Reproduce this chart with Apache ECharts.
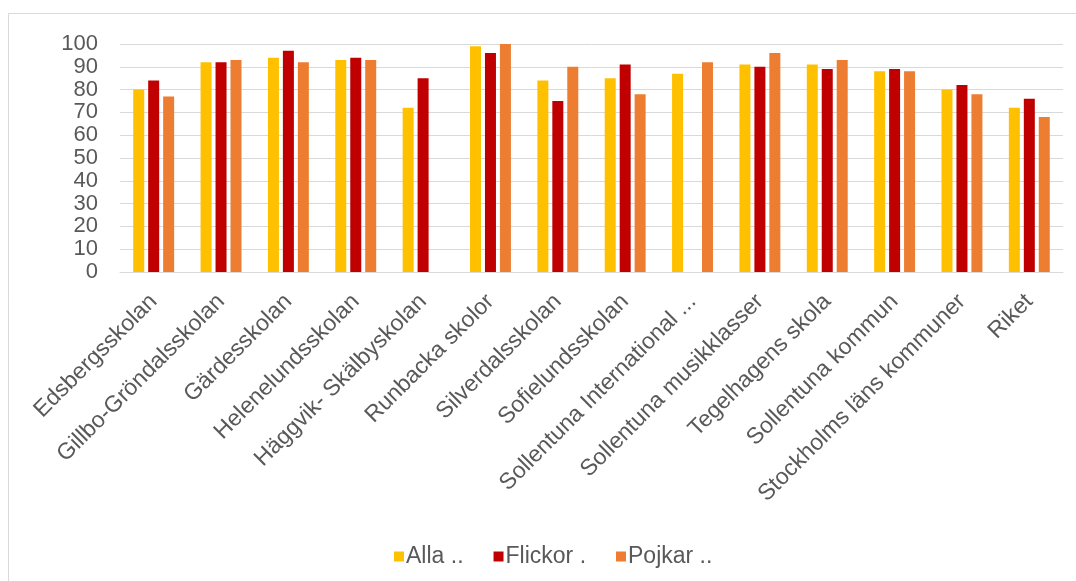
<!DOCTYPE html>
<html><head><meta charset="utf-8">
<script src="https://cdn.jsdelivr.net/npm/echarts@6/dist/echarts.min.js"></script>
<style>html,body{margin:0;padding:0;background:#fff}#c{width:1076px;height:581px}</style>
</head><body><div id="c"></div>
<script>
const categories = ["Edsbergsskolan","Gillbo-Gröndalsskolan","Gärdesskolan","Helenelundsskolan","Häggvik- Skälbyskolan","Runbacka skolor","Silverdalsskolan","Sofielundsskolan","Sollentuna International ...","Sollentuna musikklasser","Tegelhagens skola","Sollentuna kommun","Stockholms läns kommuner","Riket"];
const alla =    [80, 92, 94, 93, 72, 99, 84, 85, 87, 91, 91, 88, 80, 72];
const flickor = [84, 92, 97, 94, 85, 96, 75, 91, null, 90, 89, 89, 82, 76];
const pojkar =  [77, 93, 92, 93, null, 100, 90, 78, 92, 96, 93, 88, 78, 68];
const yTicks = [0,10,20,30,40,50,60,70,80,90,100];

const chart = echarts.init(document.getElementById('c'));
chart.setOption({
  animation:false,
  graphic:[{type:'rect',shape:{x:8.5,y:13.5,width:1100,height:600},style:{fill:'none',stroke:'#d9d9d9',lineWidth:1}}],
  grid:{left:120,right:13,top:44,bottom:309},
  legend:{top:540,left:389,itemWidth:10,itemHeight:10,itemGap:30,icon:'rect',
    textStyle:{color:'#595959',fontFamily:'Liberation Sans, Arial',fontSize:23,padding:[0,0,0,-3]},
    formatter:n=>({Alla:'Alla ..',Flickor:'Flickor .',Pojkar:'Pojkar ..'}[n])},
  xAxis:{type:'category',data:categories,
    axisLine:{lineStyle:{color:'#d9d9d9'}},axisTick:{show:false},
    axisLabel:{rotate:45,interval:0,color:'#595959',fontFamily:'Liberation Sans, Arial',fontSize:23,margin:26}},
  yAxis:{type:'value',min:0,max:100,interval:10,
    axisLabel:{color:'#595959',fontFamily:'Liberation Sans, Arial',fontSize:22,margin:22,
      formatter:v=>yTicks.includes(v)?String(v):''},
    splitLine:{lineStyle:{color:'#d9d9d9'}},axisLine:{show:false},axisTick:{show:false}},
  series:[
    {name:'Alla',type:'bar',data:alla,barWidth:11,barGap:'36%',itemStyle:{color:'#FFC000'}},
    {name:'Flickor',type:'bar',data:flickor,barWidth:11,barGap:'36%',itemStyle:{color:'#C00000'}},
    {name:'Pojkar',type:'bar',data:pojkar,barWidth:11,barGap:'36%',itemStyle:{color:'#ED7D31'}}
  ]
});
</script></body></html>
